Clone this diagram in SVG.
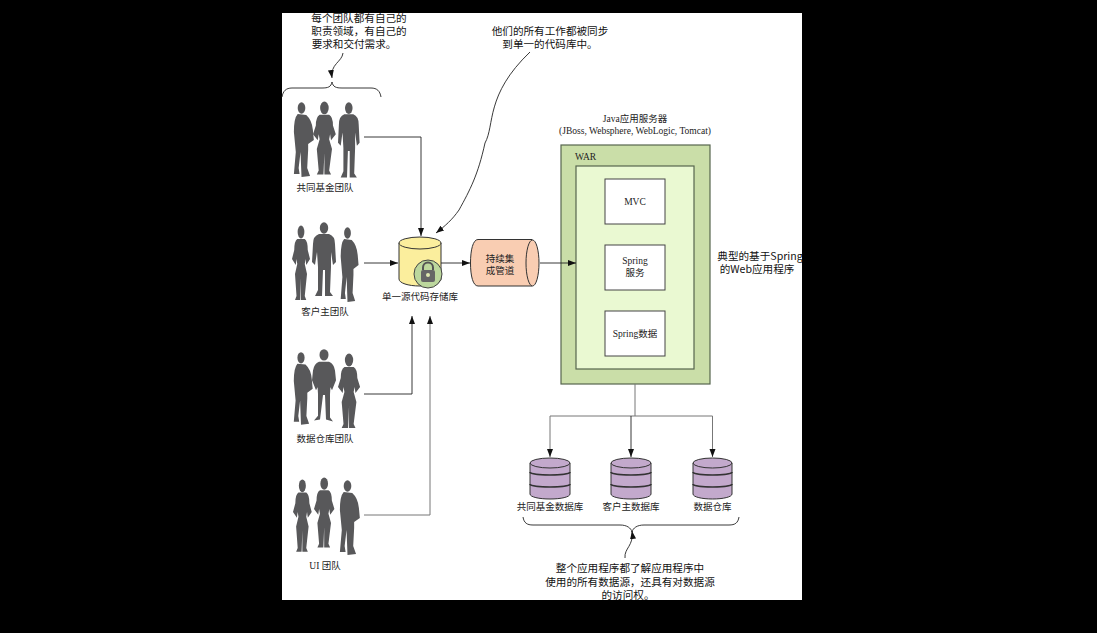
<svg xmlns="http://www.w3.org/2000/svg" width="1097" height="633" viewBox="0 0 1097 633">
<style>
.t{font-family:"Liberation Serif","Noto Sans CJK SC",serif;font-size:9.5px;fill:#222;text-anchor:middle}
.n{font-family:"Noto Sans CJK SC","Liberation Sans",sans-serif;font-size:10.6px;fill:#111;text-anchor:middle}
.l{fill:none;stroke:#222;stroke-width:.9}
.g{fill:none;stroke:#777;stroke-width:1}
.a{marker-end:url(#arr)}
.db{fill:#c3a9cc;stroke:#333;stroke-width:1}
.ed{fill:none;stroke:#333;stroke-width:1.600}
.box{fill:#fff;stroke:#444;stroke-width:1}
.p{fill:#58585a}
</style>
<defs>
<marker id="arr" markerWidth="9" markerHeight="7" refX="8" refY="3" orient="auto" markerUnits="userSpaceOnUse"><path d="M0,0L8,3L0,6Z" fill="#111"/></marker>
<g id="man"><ellipse class="p" cx="12" cy="6" rx="4.2" ry="5.8"/><path class="p" d="M7,12L17,12Q23,14 23,22L24,40L21,43L19,30L19,45L18,70L21,74L13,74L13,48L11,48L10,74L3,74L6,68L6,45L5,30L3,43L0,40L1,22Q1,14 7,12Z"/></g>
<g id="wide"><ellipse class="p" cx="12" cy="6" rx="4.5" ry="5.8"/><path class="p" d="M7,13L17,13Q22,15 23,22L24,32L20,42L18,38L19,30L18,46L18,70L21,74L14,72L13,47L11,47L8,72L2,73L6,68L6,46L5,30L6,38L4,42L0,32L1,22Q2,15 7,13Z"/></g>
<g id="side"><ellipse class="p" cx="10" cy="6" rx="4" ry="5.8"/><path class="p" d="M6,12L15,13Q21,18 22,28L23,38L17,42L17,48L16,66L19,74L10,75L9,50L7,66L8,72L2,72L4,50L2,30Q2,16 6,12Z"/></g>
<g id="woman"><ellipse class="p" cx="12" cy="6" rx="4.5" ry="6.5"/><path class="p" d="M7,13L17,13Q21,15 21,24L24,33L19,39L18,33L17,38L20,48L17,70L19,74L12,74L12,52L11,74L4,74L6,70L4,48L7,38L6,33L5,39L0,33L3,24Q3,15 7,13Z"/></g>
</defs>
<rect width="1097" height="633" fill="#000"/>
<rect x="282" y="13" width="520" height="587" fill="#fff"/>

<g id="team-fund">
<use href="#side" transform="translate(292,102) scale(.95,1)"/>
<use href="#woman" transform="translate(313,102) scale(.95,.98)"/>
<use href="#man" transform="translate(338,102) scale(.9,1.02)"/>
<text class="t" x="325" y="191">共同基金团队</text>
</g>
<g id="team-customer">
<use href="#woman" transform="translate(292,226) scale(.75,1)"/>
<use href="#man" transform="translate(312,222) scale(1,1)"/>
<use href="#side" transform="translate(339,227) scale(.85,1)"/>
<text class="t" x="325" y="315">客户主团队</text>
</g>
<g id="team-warehouse">
<use href="#side" transform="translate(292,352) scale(.9,.97)"/>
<use href="#wide" transform="translate(312,349) scale(1,.98)"/>
<use href="#woman" transform="translate(338,354) scale(.92,1)"/>
<text class="t" x="325" y="442">数据仓库团队</text>
</g>
<g id="team-ui">
<use href="#woman" transform="translate(293,480) scale(.78,.97)"/>
<use href="#woman" transform="translate(314,478) scale(.85,.94)"/>
<use href="#side" transform="translate(338,480) scale(.95,1)"/>
<text class="t" x="325" y="569">UI 团队</text>
</g>

<g id="repo">
<path d="M399,243V279C399,283 408,286 420,286C432,286 441,283 441,279V243Z" fill="#fbee9d" stroke="#333"/>
<ellipse cx="420" cy="243" rx="21" ry="6" fill="#fbee9d" stroke="#333"/>
<circle cx="428" cy="274" r="14" fill="#bcd79d" stroke="#444"/>
<path d="M423,270V267.500A5,5 0 0 1 433,267.500V270" fill="none" stroke="#555" stroke-width="2"/>
<rect x="421" y="270" width="14" height="12" rx="2" fill="#666"/>
<circle cx="428" cy="275" r="2" fill="#dfe8b0"/>
<text class="t" x="420" y="300">单一源代码存储库</text>
</g>
<g id="pipeline">
<path d="M532,239.500H478C473,239.500 470.500,250 470.500,263C470.500,276 473,286 478,286H532Z" fill="#f9cdb2" stroke="#333"/>
<ellipse cx="532.500" cy="263" rx="6.500" ry="23" fill="#f9cdb2" stroke="#333"/>
<text class="t" x="500" y="262">持续集</text>
<text class="t" x="500" y="274">成管道</text>
</g>

<g id="app-server">
<text class="t" x="635" y="122">Java应用服务器</text>
<text class="t" x="635" y="134">(JBoss, Websphere, WebLogic, Tomcat)</text>
<rect x="561" y="145" width="149" height="239" fill="#cadea8" stroke="#56654e" stroke-width="1.200"/>
<text class="t" x="575" y="160" style="text-anchor:start">WAR</text>
</g>
<g id="war">
<rect x="576" y="166" width="118" height="203" fill="#eaf9d2" stroke="#56654e" stroke-width="1.200"/>
</g>
<g id="mvc"><rect class="box" x="605" y="179" width="60" height="45"/><text class="t" x="635" y="205">MVC</text></g>
<g id="service"><rect class="box" x="605" y="245" width="60" height="45"/><text class="t" x="635" y="264">Spring</text><text class="t" x="635" y="276">服务</text></g>
<g id="data"><rect class="box" x="605" y="311" width="60" height="45"/><text class="t" x="635" y="337">Spring数据</text></g>

<g id="db-fund">
<path class="db" d="M530,463V494C530,497 539,499 550,499C561,499 570,497 570,494V463Z"/>
<ellipse class="db" cx="550" cy="463" rx="20" ry="5"/>
<path class="ed" d="M530,472C530,476 570,476 570,472M530,484C530,488 570,488 570,484"/>
<text class="t" x="550" y="510">共同基金数据库</text>
</g>
<g id="db-customer">
<path class="db" d="M611,463V494C611,497 620,499 631,499C642,499 651,497 651,494V463Z"/>
<ellipse class="db" cx="631" cy="463" rx="20" ry="5"/>
<path class="ed" d="M611,472C611,476 651,476 651,472M611,484C611,488 651,488 651,484"/>
<text class="t" x="631" y="510">客户主数据库</text>
</g>
<g id="db-warehouse">
<path class="db" d="M693,463V494C693,497 702,499 712.500,499C723,499 732,497 732,494V463Z"/>
<ellipse class="db" cx="712.500" cy="463" rx="19.500" ry="5"/>
<path class="ed" d="M693,472C693,476 732,476 732,472M693,484C693,488 732,488 732,484"/>
<text class="t" x="712.500" y="510">数据仓库</text>
</g>

<g id="notes">
<text class="n" x="359" y="22">每个团队都有自己的</text>
<text class="n" x="359" y="35">职责领域，有自己的</text>
<text class="n" x="354" y="48">要求和交付需求。</text>
<text class="n" x="550" y="35">他们的所有工作都被同步</text>
<text class="n" x="550" y="48">到单一的代码库中。</text>
<text class="n" x="760" y="260">典型的基于Spring</text>
<text class="n" x="757" y="273">的Web应用程序</text>
<text class="n" x="630" y="572">整个应用程序都了解应用程序中</text>
<text class="n" x="630" y="586">使用的所有数据源，还具有对数据源</text>
<text class="n" x="628" y="599">的访问权。</text>
</g>

<g id="connectors">
<path class="l a" d="M364,137H421V236"/>
<path class="l a" d="M364,263H398"/>
<path class="l a" d="M441,263H470"/>
<path class="l a" d="M540,263H576"/>
<path class="l a" d="M364,394H412V316"/>
<path class="g a" d="M364,515H430V316"/>
<path class="g" d="M635,384V416"/>
<path class="g a" d="M635,416H550V457"/>
<path class="l a" d="M631,416V457"/>
<path class="g a" d="M635,416H712.500V457"/>
<path class="l a" d="M530,52C485,95 495,125 485,143C478,175 470,190 459,210C452,220 445,226 436,233"/>
<path class="l a" d="M343,53C342,62 330,64 332,78"/>
<path class="l a" d="M625,558C624,548 634,546 632,531"/>
<path class="l" d="M282,97C283,91 286,88 292,88H322C328,88 331,87 332,82C333,87 336,88 342,88H371C377,88 380,91 381,97"/>
<path class="l" d="M523,517C524,523 527,525 533,525H620C627,525 631,528 632,532C633,528 637,525 644,525H729C735,525 738,523 739,517"/>
</g>
</svg>
